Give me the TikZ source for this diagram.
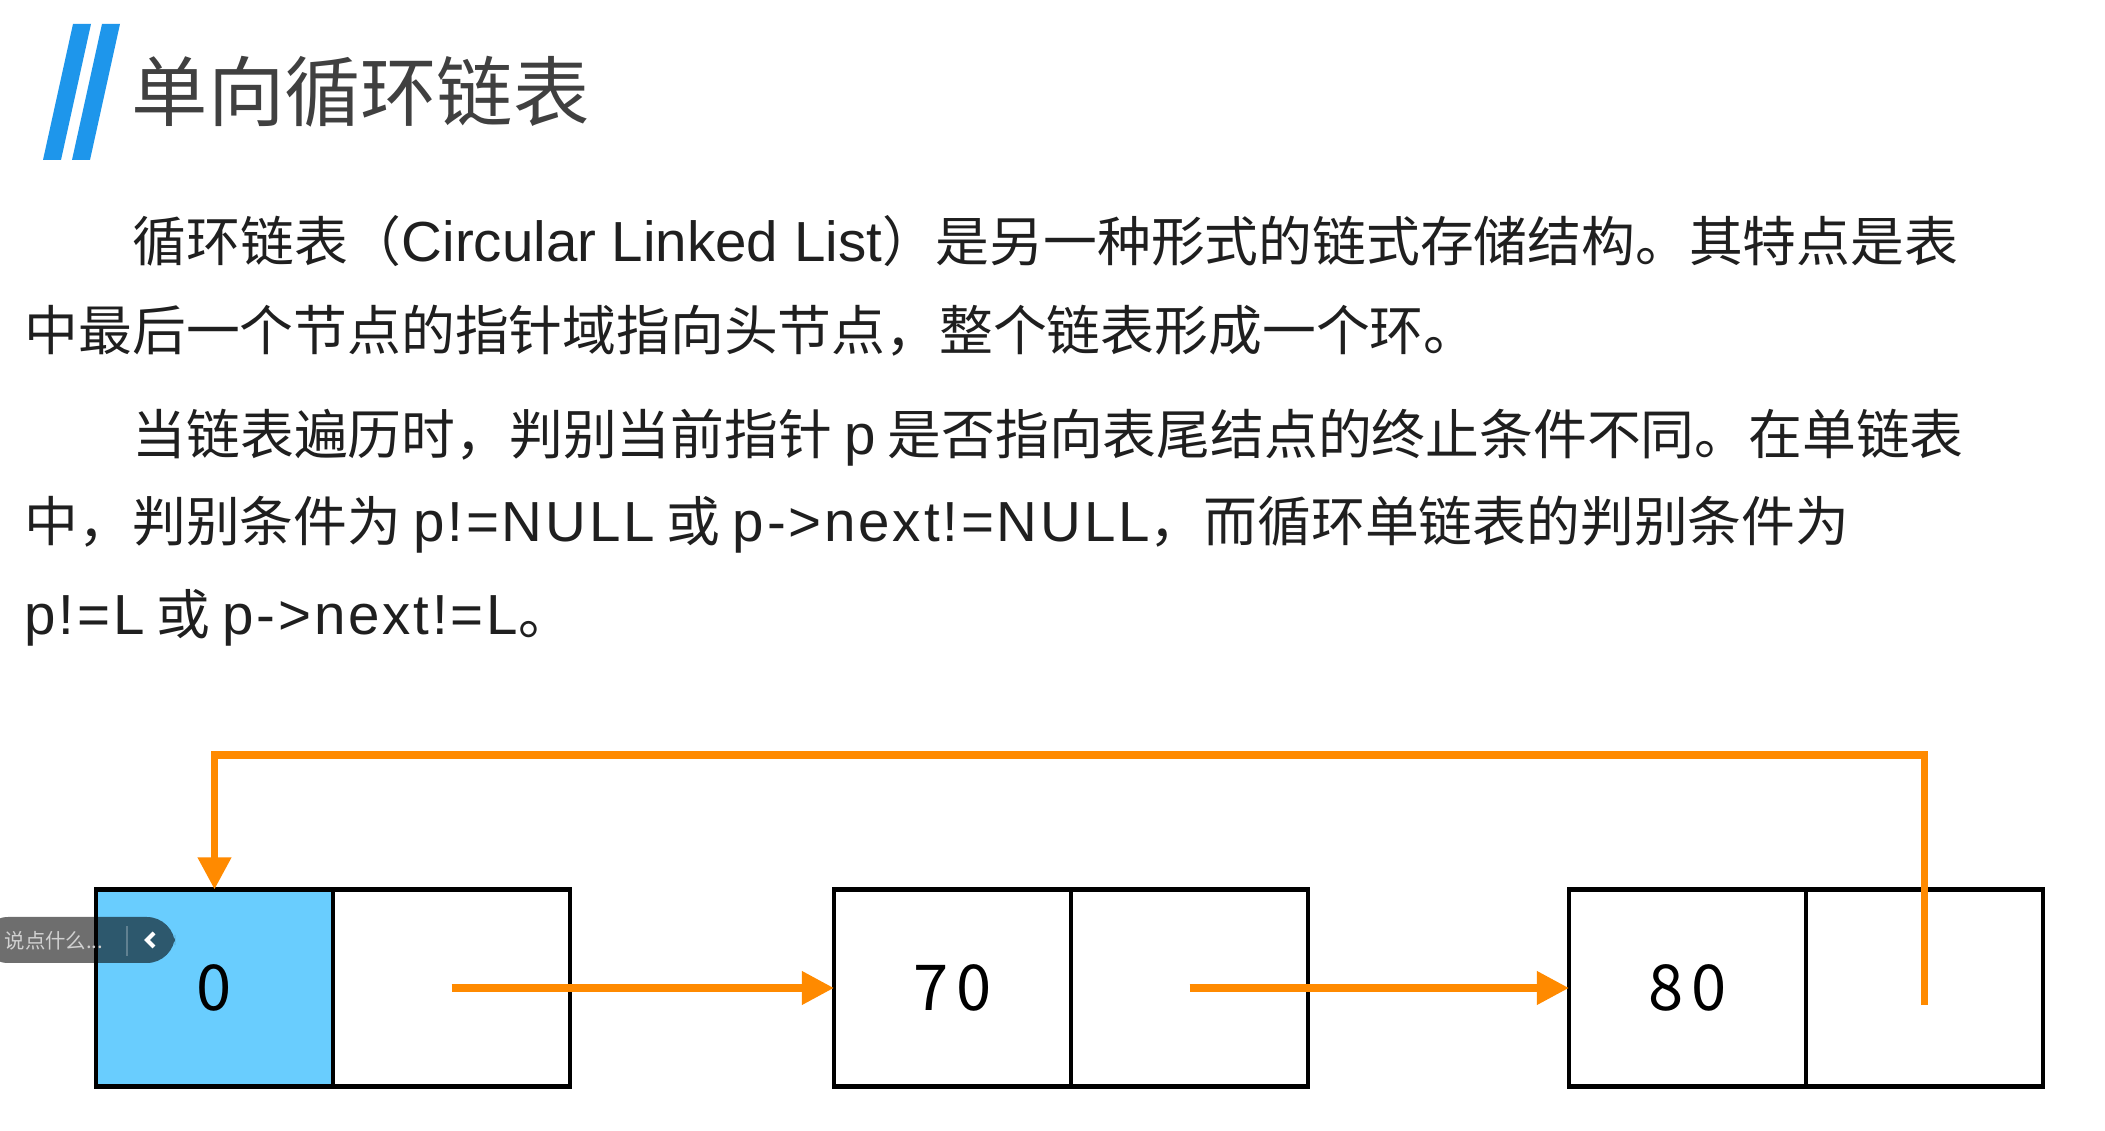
\documentclass[tikz,border=0pt]{standalone}
\usepackage{fontspec}
\setmainfont{Noto Sans CJK SC}
\newfontfamily\latinfont[Scale=1.05]{Liberation Sans}
\newfontfamily\codefont[Scale=1.05,LetterSpace=5]{Liberation Sans}
\newcommand{\en}[1]{{\latinfont #1}}
\newcommand{\cd}[1]{{\codefont #1}}
\usetikzlibrary{arrows.meta,positioning}
\definecolor{barblue}{RGB}{30,150,235}
\definecolor{cellblue}{RGB}{105,205,254}
\definecolor{linkorange}{RGB}{255,138,0}
\definecolor{titlegray}{RGB}{64,64,64}
\tikzset{
  cell/.style={draw=black,line width=1.2pt,minimum width=2.37cm,minimum height=1.97cm,inner sep=0pt,outer sep=0pt,font=\fontsize{18pt}{20pt}\selectfont},
  link/.style={draw=linkorange,line width=2pt,-{Triangle[length=0.32cm,width=0.32cm]}},
  bodyline/.style={anchor=base west,inner sep=0pt,text=black!88,font=\fontsize{15.3pt}{18pt}\selectfont}
}
\begin{document}
\begin{tikzpicture}[x=0.01cm,y=-0.01cm]
              \fill[white] (0,0) rectangle (2105,1131);
              \useasboundingbox (0,0) rectangle (2105,1131);
              \fill[barblue] (43,160) -- (61,160) -- (91,24) -- (73,24) -- cycle;
              \fill[barblue] (72,160) -- (90,160) -- (120,24) -- (102,24) -- cycle;
              \node[anchor=base west,inner sep=0pt,text=titlegray,font=\fontsize{21.7pt}{26pt}\selectfont] (title) at (131,121) {单向循环链表};
              \node[bodyline] (l1) at (132,262) {循环链表（\en{Circular Linked List}）是另一种形式的链式存储结构。其特点是表};
              \node[bodyline] (l2) at (24,351) {中最后一个节点的指针域指向头节点，整个链表形成一个环。};
              \node[bodyline] (l3) at (132,455) {当链表遍历时，判别当前指针 \en{p} 是否指向表尾结点的终止条件不同。在单链表};
              \node[bodyline] (l4) at (24,542) {中，判别条件为 \cd{p!=NULL} 或 \cd{p->next!=NULL}，而循环单链表的判别条件为};
              \node[bodyline] (l5) at (24,635) {\cd{p!=L} 或 \cd{p->next!=L}。};
              \node[cell,fill=cellblue] (d0) at (214.5,988) {0};
              \node[cell,right=0pt of d0] (p0) {};
              \node[cell] (d1) at (952.5,988) {7\kern0.12em0};
              \node[cell,right=0pt of d1] (p1) {};
              \node[cell] (d2) at (1687.5,988) {8\kern0.12em0};
              \node[cell,right=0pt of d2] (p2) {};
              \coordinate (top) at (0,755);
              \draw[link] (p0.center) -- (d1.west);
              \draw[link] (p1.center) -- (d2.west);
              \draw[link] ([yshift=-0.17cm]p2.center) -- (p2.center |- top) -- (d0.north |- top) -- (d0.north);
              \fill[black,opacity=0.57,rounded corners=8] (-20,917) rectangle (175,963);
              \draw[white,opacity=0.25,line width=0.6pt] (127,926) -- (127,956);
              \draw[white,line width=1.2pt] (154,933) -- (147,940) -- (154,947);
              \node[anchor=west,inner sep=0pt,text=black!18,font=\fontsize{5.8pt}{7pt}\selectfont] (chat) at (4,941) {说点什么...};
            \end{tikzpicture}
\end{document}
